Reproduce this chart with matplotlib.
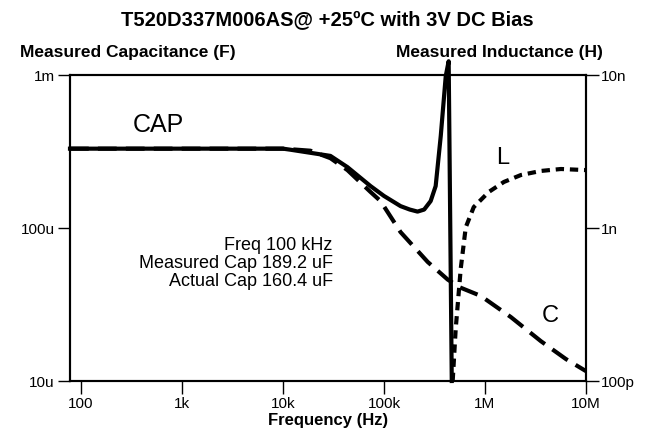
import matplotlib
matplotlib.use("Agg")
import matplotlib.pyplot as plt
from matplotlib.ticker import FixedLocator, FixedFormatter, NullLocator

plt.rcParams["font.family"] = ["Liberation Sans", "DejaVu Sans"]

# ===== Data =====
# Measured capacitance (solid), F
cap_freq = [78, 1e3, 1e4, 11.8e3, 29.5e3, 43.5e3, 73.6e3, 100e3, 146e3, 180e3,
            215e3, 250e3, 290e3, 325e3, 365e3, 409e3, 437e3, 469e3]
cap_meas = [330e-6, 330e-6, 330e-6, 325e-6, 296e-6, 250e-6, 188e-6, 162e-6, 139e-6,
            132e-6, 128e-6, 132e-6, 150e-6, 188e-6, 400e-6, 985e-6, 1.23e-3, 1.0e-5]

# Actual capacitance (dashed), F
c_freq = [78, 1e3, 1e4, 18.7e3, 29.5e3, 43.5e3, 73.6e3, 92.5e3, 146e3, 271e3,
          428e3, 560e3, 908e3, 1.8e6, 3.58e6, 6.34e6, 10e6]
c_vals = [330e-6, 330e-6, 330e-6, 320e-6, 286e-6, 239e-6, 172e-6, 150e-6, 94e-6,
          60e-6, 46e-6, 41e-6, 36e-6, 26.2e-6, 18.2e-6, 13.9e-6, 11.6e-6]

# Measured inductance (dotted), H
l_freq = [479e3, 513e3, 575e3, 645e3, 774e3, 1.09e6, 1.54e6, 2.27e6, 3.58e6,
          5.65e6, 10e6]
l_vals = [100e-12, 219e-12, 540e-12, 1.01e-9, 1.37e-9, 1.72e-9, 2.0e-9, 2.22e-9,
          2.36e-9, 2.43e-9, 2.39e-9]

x_ticks = [100, 1e3, 1e4, 1e5, 1e6, 1e7]
x_labels = ["100", "1k", "10k", "100k", "1M", "10M"]
left_ticks = [1e-5, 1e-4, 1e-3]
left_labels = ["10u", "100u", "1m"]
right_ticks = [1e-10, 1e-9, 1e-8]
right_labels = ["100p", "1n", "10n"]

info_lines = ["Freq 100 kHz", "Measured Cap 189.2 uF", "Actual Cap 160.4 uF"]

fig = plt.figure(figsize=(6.54, 4.39), dpi=100)
ax = fig.add_axes([70 / 654, 1 - 382 / 439, 516 / 654, 306 / 439])
ax2 = ax.twinx()

ax.set_xscale("log")
ax.set_yscale("log")
ax2.set_yscale("log")
ax.set_xlim(78, 1e7)
ax.set_ylim(1e-5, 1e-3)
ax2.set_ylim(1e-10, 1e-8)

ax.plot(c_freq, c_vals, color="black", lw=3, ls=(0, (4.5, 2.2)), zorder=3)
ax.plot(cap_freq, cap_meas, color="black", lw=3, solid_joinstyle="round",
        clip_on=False, zorder=4)
ax2.plot(l_freq, l_vals, color="black", lw=3, ls=(0, (2, 1.4)), zorder=3)

for a in (ax, ax2):
    for s in a.spines.values():
        s.set_linewidth(1.5)
    a.yaxis.set_minor_locator(NullLocator())
ax.xaxis.set_minor_locator(NullLocator())

ax.xaxis.set_major_locator(FixedLocator(x_ticks))
ax.xaxis.set_major_formatter(FixedFormatter(x_labels))
ax.yaxis.set_major_locator(FixedLocator(left_ticks))
ax.yaxis.set_major_formatter(FixedFormatter(left_labels))
ax2.yaxis.set_major_locator(FixedLocator(right_ticks))
ax2.yaxis.set_major_formatter(FixedFormatter(right_labels))
ax.tick_params(axis="both", direction="out", length=9, width=1, labelsize=11, pad=2)
ax2.tick_params(axis="y", direction="out", length=9, width=1, labelsize=11, pad=2)

ax.set_xlabel("Frequency (Hz)", fontsize=12, fontweight="bold", labelpad=1)

ax.text(0.122, 0.84, "CAP", transform=ax.transAxes, fontsize=18, va="center", ha="left")
ax.text(0.826, 0.732, "L", transform=ax.transAxes, fontsize=17, va="center", ha="left")
ax.text(0.914, 0.216, "C", transform=ax.transAxes, fontsize=17, va="center", ha="left")

for i, line in enumerate(info_lines):
    ax.text(0.509, (382 - 246 - i * 17.5) / 306, line, transform=ax.transAxes,
            fontsize=13, ha="right", va="center")

fig.text(0.5, 1 - 21 / 439, "T520D337M006AS@ +25ºC with 3V DC Bias",
         fontsize=14.5, fontweight="bold", ha="center", va="center")
fig.text(20 / 654, 1 - 53 / 439, "Measured Capacitance (F)", fontsize=12.5,
         fontweight="bold", ha="left", va="center")
fig.text(603 / 654, 1 - 53 / 439, "Measured Inductance (H)", fontsize=12.5,
         fontweight="bold", ha="right", va="center")

fig.savefig("out.png", dpi=100)
